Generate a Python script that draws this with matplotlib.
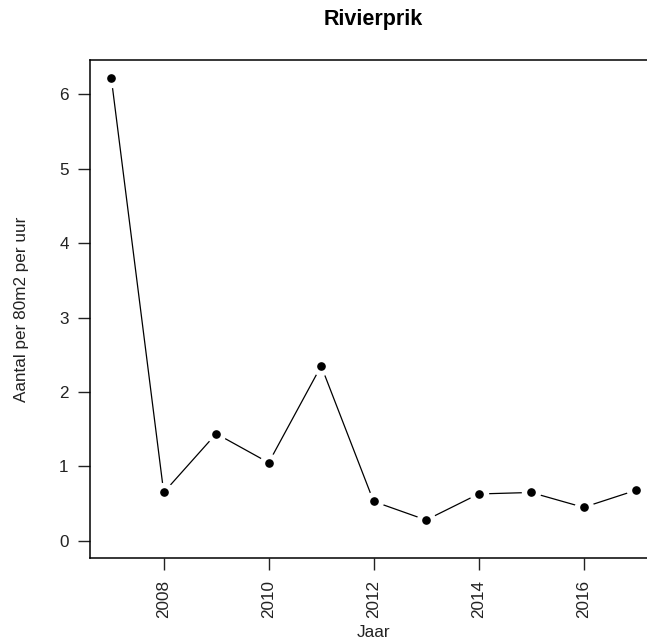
import matplotlib
matplotlib.use("Agg")
import matplotlib.pyplot as plt

# -----------------------------
# Data: Rivierprik catches
# -----------------------------
years = [2007, 2008, 2009, 2010, 2011, 2012, 2013, 2014, 2015, 2016, 2017]
counts = [6.22, 0.65, 1.44, 1.05, 2.35, 0.53, 0.28, 0.63, 0.65, 0.45, 0.68]
x_ticks = [2008, 2010, 2012, 2014, 2016]
y_ticks = [0, 1, 2, 3, 4, 5, 6]

plt.rcParams['font.family'] = ['Liberation Sans', 'DejaVu Sans']

fig = plt.figure(figsize=(6.47, 6.41), dpi=100)
# plot region runs past the right edge, like the cropped original
ax = fig.add_axes([0.1395, 0.1295, 0.876, 0.777])

# R style type="b": line with gaps around the points
ax.plot(years, counts, color='black', linewidth=0.9, zorder=1)
ax.plot(years, counts, linestyle='none', marker='o', markersize=13,
        markerfacecolor='white', markeredgecolor='white', zorder=2)
ax.plot(years, counts, linestyle='none', marker='o', markersize=5.2,
        markerfacecolor='black', markeredgecolor='black', zorder=3)

ax.set_xlim(2006.6, 2017.4)
ax.set_ylim(-0.23, 6.46)
ax.set_xticks(x_ticks)
ax.set_xticklabels([str(v) for v in x_ticks], rotation=90)
ax.set_yticks(y_ticks)

ax.tick_params(axis='both', length=8.5, width=1.0, labelsize=12.3, pad=7,
               colors='#222222')
for side in ax.spines.values():
    side.set_linewidth(1.1)

ax.set_title('Rivierprik', fontsize=15.5, fontweight='bold', pad=25)
ax.set_xlabel('Jaar', fontsize=12.3, labelpad=5, color='#222222')
ax.set_ylabel('Aantal per 80m2 per uur', fontsize=12.3, labelpad=22,
              color='#222222')

fig.savefig('out.png', dpi=100)
